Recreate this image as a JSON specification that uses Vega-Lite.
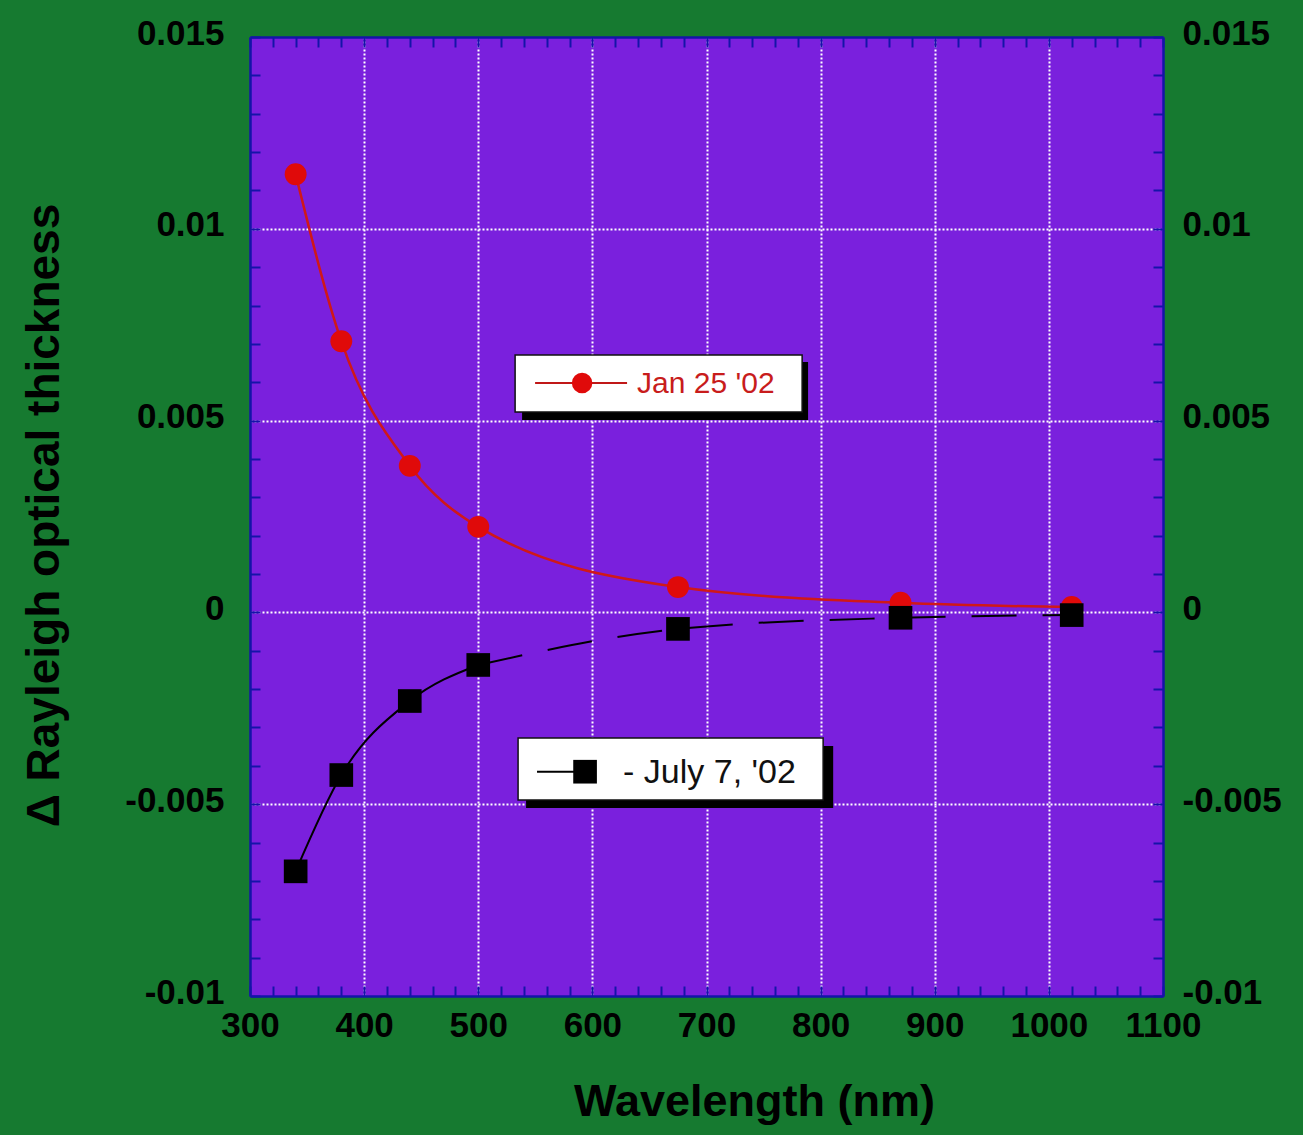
{
  "$schema": "https://vega.github.io/schema/vega-lite/v6.json",
  "width": 913,
  "height": 959,
  "autosize": "none",
  "padding": {"left": 250, "top": 37, "right": 140, "bottom": 139},
  "background": "#167a30",
  "config": {
    "view": {"fill": "#7a20dd", "stroke": null},
    "axis": {
      "domainColor": "#1414a8", "domainWidth": 2.5,
      "tickColor": "#1414a8", "tickWidth": 2, "tickSize": -10,
      "labelFont": "Liberation Sans", "labelFontWeight": "bold", "labelFontSize": 35, "labelColor": "#000000",
      "titleFont": "Liberation Sans", "titleFontWeight": "bold", "titleColor": "#000000",
      "gridColor": "#ffffff", "gridDash": [2, 2], "gridWidth": 2,
      "labelOverlap": false, "labelBound": false, "labelFlush": false
    }
  },
  "datasets": {
    "obs": [
      {"series": "Jan 25 '02", "wavelength": 340, "delta_tau": 0.01142},
      {"series": "Jan 25 '02", "wavelength": 380, "delta_tau": 0.00707},
      {"series": "Jan 25 '02", "wavelength": 440, "delta_tau": 0.00382},
      {"series": "Jan 25 '02", "wavelength": 500, "delta_tau": 0.00223},
      {"series": "Jan 25 '02", "wavelength": 675, "delta_tau": 0.00066},
      {"series": "Jan 25 '02", "wavelength": 870, "delta_tau": 0.00025},
      {"series": "Jan 25 '02", "wavelength": 1020, "delta_tau": 0.00014},
      {"series": "July 7, '02", "wavelength": 340, "delta_tau": -0.00675},
      {"series": "July 7, '02", "wavelength": 380, "delta_tau": -0.00424},
      {"series": "July 7, '02", "wavelength": 440, "delta_tau": -0.00231},
      {"series": "July 7, '02", "wavelength": 500, "delta_tau": -0.00137},
      {"series": "July 7, '02", "wavelength": 675, "delta_tau": -0.00043},
      {"series": "July 7, '02", "wavelength": 870, "delta_tau": -0.00014},
      {"series": "July 7, '02", "wavelength": 1020, "delta_tau": -0.00007}
    ],
    "legend_jan": [{"label": "Jan 25 '02"}],
    "legend_jul": [{"label": "- July 7, '02"}]
  },
  "data": {"name": "obs"},
  "layer": [
    {
      "transform": [{"filter": "datum.series == \"July 7, '02\" && datum.wavelength <= 500"}],
      "mark": {"type": "line", "color": "#000000", "strokeWidth": 2, "interpolate": "monotone"},
      "encoding": {
        "x": {"field": "wavelength", "type": "quantitative",
          "scale": {"domain": [300, 1100], "nice": false, "zero": false},
          "axis": {"orient": "bottom", "title": "Wavelength (nm)", "titleFontSize": 45,
            "titleX": 504, "titleY": 119, "titleBaseline": "alphabetic", "titleAlign": "center",
            "values": [300,320,340,360,380,400,420,440,460,480,500,520,540,560,580,600,620,640,660,680,700,720,740,760,780,800,820,840,860,880,900,920,940,960,980,1000,1020,1040,1060,1080,1100],
            "labelExpr": "datum.value % 100 == 0 ? '' + datum.value : ''",
            "labelPadding": 22,
            "grid": true,
            "gridOpacity": {"condition": {"test": "datum.value % 100 == 0 && datum.value > 300 && datum.value < 1100", "value": 1}, "value": 0}
          }},
        "y": {"field": "delta_tau", "type": "quantitative",
          "scale": {"domain": [-0.01, 0.015], "nice": false, "zero": false},
          "axis": {"orient": "left", "title": "Δ Rayleigh optical thickness", "titleFontSize": 46,
            "titleX": -192, "titleY": 478, "titleAngle": -90, "titleBaseline": "alphabetic", "titleAlign": "center",
            "values": [-0.01,-0.009,-0.008,-0.007,-0.006,-0.005,-0.004,-0.003,-0.002,-0.001,0,0.001,0.002,0.003,0.004,0.005,0.006,0.007,0.008,0.009,0.01,0.011,0.012,0.013,0.014,0.015],
            "labelExpr": "abs(round(datum.value * 1000)) % 5 == 0 ? '' + datum.value : ''",
            "labelPadding": 36,
            "labelOffset": -4,
            "grid": true,
            "gridOpacity": {"condition": {"test": "abs(round(datum.value * 1000)) % 5 == 0 && datum.value > -0.0099 && datum.value < 0.0149", "value": 1}, "value": 0}
          }}
      }
    },
    {
      "transform": [{"filter": "datum.series == \"July 7, '02\" && datum.wavelength >= 500"}],
      "mark": {"type": "line", "color": "#000000", "strokeWidth": 2, "strokeDash": [45, 26], "interpolate": "monotone"},
      "encoding": {
        "x": {"field": "wavelength", "type": "quantitative",
          "axis": {"orient": "top", "title": null, "labels": false, "grid": false,
            "values": [300,320,340,360,380,400,420,440,460,480,500,520,540,560,580,600,620,640,660,680,700,720,740,760,780,800,820,840,860,880,900,920,940,960,980,1000,1020,1040,1060,1080,1100]}},
        "y": {"field": "delta_tau", "type": "quantitative",
          "axis": {"orient": "right", "title": null, "grid": false, "labelAlign": "left", "labelPadding": 29, "labelOffset": -4,
            "values": [-0.01,-0.009,-0.008,-0.007,-0.006,-0.005,-0.004,-0.003,-0.002,-0.001,0,0.001,0.002,0.003,0.004,0.005,0.006,0.007,0.008,0.009,0.01,0.011,0.012,0.013,0.014,0.015],
            "labelExpr": "abs(round(datum.value * 1000)) % 5 == 0 ? '' + datum.value : ''"}}
      }
    },
    {
      "transform": [{"filter": "datum.series == \"Jan 25 '02\""}],
      "mark": {"type": "line", "color": "#d01818", "strokeWidth": 2.5, "interpolate": "monotone"},
      "encoding": {
        "x": {"field": "wavelength", "type": "quantitative", "axis": null},
        "y": {"field": "delta_tau", "type": "quantitative", "axis": null}
      }
    },
    {
      "transform": [{"filter": "datum.series == \"Jan 25 '02\""}],
      "mark": {"type": "point", "shape": "circle", "filled": true, "color": "#e00a0a", "opacity": 1, "size": 480},
      "encoding": {
        "x": {"field": "wavelength", "type": "quantitative", "axis": null},
        "y": {"field": "delta_tau", "type": "quantitative", "axis": null}
      }
    },
    {
      "transform": [{"filter": "datum.series == \"July 7, '02\""}],
      "mark": {"type": "point", "shape": "square", "filled": true, "color": "#000000", "opacity": 1, "size": 560},
      "encoding": {
        "x": {"field": "wavelength", "type": "quantitative", "axis": null},
        "y": {"field": "delta_tau", "type": "quantitative", "axis": null}
      }
    },
    {
      "data": {"name": "legend_jan"},
      "mark": {"type": "rect", "color": "#000000"},
      "encoding": {
        "x": {"datum": 538.4, "type": "quantitative", "axis": null},
        "x2": {"datum": 789},
        "y": {"datum": 0.006528, "type": "quantitative", "axis": null},
        "y2": {"datum": 0.005016}
      }
    },
    {
      "data": {"name": "legend_jan"},
      "mark": {"type": "rect", "fill": "#ffffff", "stroke": "#111111", "strokeWidth": 1.5},
      "encoding": {
        "x": {"datum": 532.3, "type": "quantitative", "axis": null},
        "x2": {"datum": 783.8},
        "y": {"datum": 0.00671, "type": "quantitative", "axis": null},
        "y2": {"datum": 0.005224}
      }
    },
    {
      "data": {"name": "legend_jan"},
      "mark": {"type": "rule", "color": "#c01818", "strokeWidth": 2},
      "encoding": {
        "x": {"datum": 549.8, "type": "quantitative", "axis": null},
        "x2": {"datum": 630.4},
        "y": {"datum": 0.00598, "type": "quantitative", "axis": null}
      }
    },
    {
      "data": {"name": "legend_jan"},
      "mark": {"type": "point", "shape": "circle", "filled": true, "color": "#e00a0a", "opacity": 1, "size": 420},
      "encoding": {
        "x": {"datum": 591, "type": "quantitative", "axis": null},
        "y": {"datum": 0.00598, "type": "quantitative", "axis": null}
      }
    },
    {
      "data": {"name": "legend_jan"},
      "mark": {"type": "text", "color": "#c81c1c", "font": "Liberation Sans", "fontSize": 30, "align": "left", "baseline": "middle", "dy": 1},
      "encoding": {
        "x": {"datum": 639.2, "type": "quantitative", "axis": null},
        "y": {"datum": 0.00598, "type": "quantitative", "axis": null},
        "text": {"field": "label"}
      }
    },
    {
      "data": {"name": "legend_jul"},
      "mark": {"type": "rect", "color": "#000000"},
      "encoding": {
        "x": {"datum": 541.9, "type": "quantitative", "axis": null},
        "x2": {"datum": 811},
        "y": {"datum": -0.003483, "type": "quantitative", "axis": null},
        "y2": {"datum": -0.0051}
      }
    },
    {
      "data": {"name": "legend_jul"},
      "mark": {"type": "rect", "fill": "#ffffff", "stroke": "#111111", "strokeWidth": 1.5},
      "encoding": {
        "x": {"datum": 534.9, "type": "quantitative", "axis": null},
        "x2": {"datum": 802.2},
        "y": {"datum": -0.003274, "type": "quantitative", "axis": null},
        "y2": {"datum": -0.00489}
      }
    },
    {
      "data": {"name": "legend_jul"},
      "mark": {"type": "rule", "color": "#000000", "strokeWidth": 2},
      "encoding": {
        "x": {"datum": 551.5, "type": "quantitative", "axis": null},
        "x2": {"datum": 589.2},
        "y": {"datum": -0.004153, "type": "quantitative", "axis": null}
      }
    },
    {
      "data": {"name": "legend_jul"},
      "mark": {"type": "point", "shape": "square", "filled": true, "color": "#000000", "opacity": 1, "size": 560},
      "encoding": {
        "x": {"datum": 593.6, "type": "quantitative", "axis": null},
        "y": {"datum": -0.004153, "type": "quantitative", "axis": null}
      }
    },
    {
      "data": {"name": "legend_jul"},
      "mark": {"type": "text", "color": "#111111", "font": "Liberation Sans", "fontSize": 34, "align": "left", "baseline": "middle", "dy": 1},
      "encoding": {
        "x": {"datum": 626.9, "type": "quantitative", "axis": null},
        "y": {"datum": -0.004153, "type": "quantitative", "axis": null},
        "text": {"field": "label"}
      }
    }
  ],
  "resolve": {"axis": {"x": "independent", "y": "independent"}}
}
